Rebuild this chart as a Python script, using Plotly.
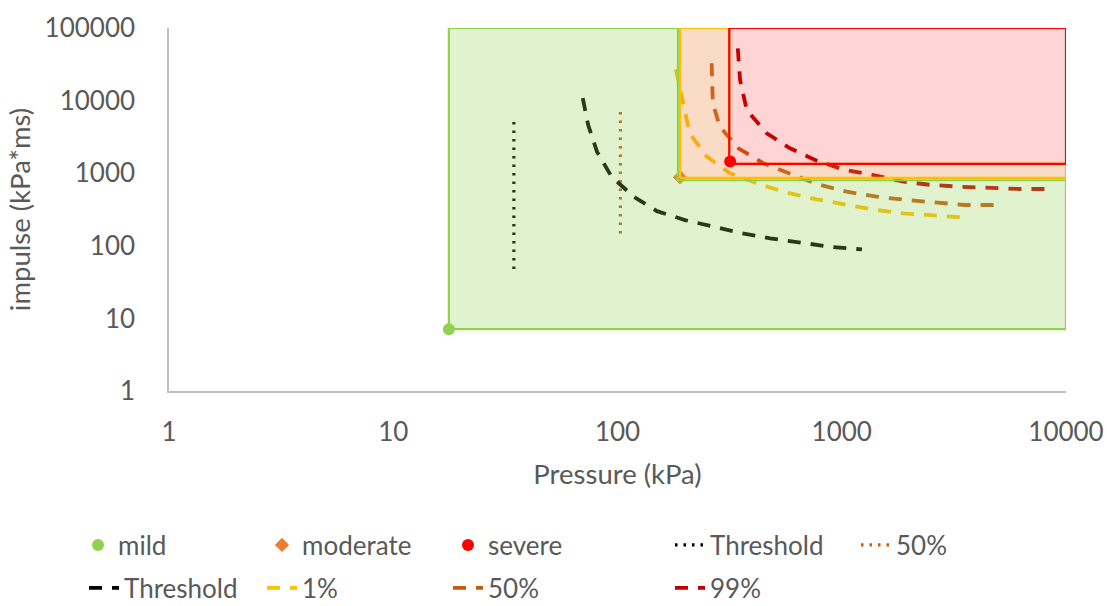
import plotly.graph_objects as go

# Injury points
mild_p, mild_i = [17.7], [7.1]
moderate_p, moderate_i = [190], [880]
severe_p, severe_i = [318], [1450]

# Vertical dotted limits
thr_dot_p, thr_dot_i = [34.5, 34.5], [48, 5800]
p50_dot_p, p50_dot_i = [103, 103], [148, 8100]

# Pressure-impulse curves
thr_p = [70, 74, 81, 94, 118, 150, 200, 272, 358, 479, 652, 887, 1230]
thr_i = [10800, 4600, 1980, 900, 475, 300, 226, 180, 149, 127, 110, 97, 89]
p1_p = [182, 193, 210, 250, 318, 418, 568, 773, 1016, 1360, 1881, 2559, 3430]
p1_i = [27000, 11300, 3540, 1690, 996, 726, 539, 437, 373, 318, 280, 263, 247]
p50_p = [263, 264, 266, 286, 346, 447, 588, 773, 1052, 1432, 1949, 2606, 3546, 4743, 5080]
p50_i = [32700, 19200, 9180, 4370, 2200, 1370, 975, 710, 556, 475, 427, 392, 365, 365, 373]
p99_p = [344, 352, 377, 463, 588, 773, 1034, 1383, 1881, 2518, 3366, 4582, 6235, 8055]
p99_i = [52500, 19200, 7420, 3540, 2200, 1490, 1107, 944, 764, 688, 652, 620, 606, 606]

# Injury zones (outlines)
zone_mild_p = [17.7, 10000, 10000, 186, 186, 17.7, 17.7]
zone_mild_i = [7.1, 7.1, 800, 800, 100000, 100000, 7.1]
zone_mod_p = [190, 10000, 10000, 315, 315, 190, 190]
zone_mod_i = [860, 860, 1340, 1340, 100000, 100000, 860]
zone_sev_p = [315, 10000, 10000, 315, 315]
zone_sev_i = [1340, 1340, 100000, 100000, 1340]

FONT = "Lato"
TXT = "#595959"
DASH = "13px,10px"
DOT = "2.5px,6px"

fig = go.Figure()

def add(trace, legend=None):
    if legend is None:
        trace.showlegend = False
    else:
        trace.legend = legend
    fig.add_trace(trace)

# curves and dotted limits (drawn beneath the translucent zones)
add(go.Scatter(x=thr_dot_p, y=thr_dot_i, mode="lines", name="Threshold",
               line=dict(color="#000000", width=3.2, dash=DOT)), "legend4")
add(go.Scatter(x=p50_dot_p, y=p50_dot_i, mode="lines", name="50%",
               line=dict(color="#C55A11", width=3.2, dash=DOT)), "legend5")
add(go.Scatter(x=thr_p, y=thr_i, mode="lines", name="Threshold",
               line=dict(color="#000000", width=3.8, dash=DASH)), "legend6")
add(go.Scatter(x=p1_p, y=p1_i, mode="lines", name="1%",
               line=dict(color="#FFC000", width=3.8, dash=DASH)), "legend7")
add(go.Scatter(x=p50_p, y=p50_i, mode="lines", name="50%",
               line=dict(color="#C55A11", width=3.8, dash=DASH)), "legend8")
add(go.Scatter(x=p99_p, y=p99_i, mode="lines", name="99%",
               line=dict(color="#C00000", width=3.8, dash=DASH)), "legend9")
add(go.Scatter(x=moderate_p, y=moderate_i, mode="markers", name="moderate",
               marker=dict(symbol="diamond", color="#ED7D31", size=11)), "legend2")

# translucent zones
add(go.Scatter(x=zone_mild_p, y=zone_mild_i, mode="lines", fill="toself",
               fillcolor="rgba(146,208,80,0.28)", line=dict(color="#92D050", width=2.2),
               hoverinfo="skip"))
add(go.Scatter(x=zone_mod_p, y=zone_mod_i, mode="lines", fill="toself",
               fillcolor="rgba(237,125,49,0.28)", line=dict(color="#FFC000", width=2.2),
               hoverinfo="skip"))
add(go.Scatter(x=zone_sev_p, y=zone_sev_i, mode="lines", fill="toself",
               fillcolor="rgba(255,0,0,0.17)", line=dict(color="#FF0000", width=2.2),
               hoverinfo="skip"))

add(go.Scatter(x=mild_p, y=mild_i, mode="markers", name="mild",
               marker=dict(color="#92D050", size=12)), "legend")
add(go.Scatter(x=severe_p, y=severe_i, mode="markers", name="severe",
               marker=dict(color="#FF0000", size=12)), "legend3")

# plot area spans x 169..1066, y 28..391 px
def lx(px):
    return (px - 169) / 897

def ly(py):
    return (391 - py) / 363

leg_font = dict(family=FONT, size=26, color=TXT)
def leg(text_x, row_y):
    return dict(x=lx(text_x - 40), y=ly(row_y), xanchor="left", yanchor="middle",
                bgcolor="rgba(0,0,0,0)", font=leg_font, borderwidth=0,
                tracegroupgap=0)

R1, R2 = 545, 588
fig.update_layout(
    width=1107, height=606,
    margin=dict(l=169, r=41, t=28, b=215, autoexpand=False),
    paper_bgcolor="white", plot_bgcolor="white",
    font=dict(family=FONT, size=26, color=TXT),
    legend=leg(118, R1), legend2=leg(302, R1), legend3=leg(488, R1),
    legend4=leg(710, R1), legend5=leg(896, R1),
    legend6=leg(124, R2), legend7=leg(302, R2), legend8=leg(488, R2),
    legend9=leg(710, R2),
    xaxis=dict(type="log", range=[0, 4], showgrid=False, zeroline=False,
               showline=True, linecolor="#BFBFBF", linewidth=1.5, ticks="",
               tickvals=[1, 10, 100, 1000, 10000],
               ticktext=["1", "10", "100", "1000", "10000"],
               ticklabelstandoff=17,
               tickfont=dict(family=FONT, size=26, color=TXT),
               title=dict(text="Pressure (kPa)", standoff=19,
                          font=dict(family=FONT, size=27.5, color=TXT))),
    yaxis=dict(type="log", range=[0, 5], showgrid=False, zeroline=False,
               showline=True, linecolor="#BFBFBF", linewidth=1.5, ticks="",
               tickvals=[1, 10, 100, 1000, 10000, 100000],
               ticktext=["1", "10", "100", "1000", "10000", "100000"],
               ticklabelstandoff=27,
               tickfont=dict(family=FONT, size=26, color=TXT),
               title=dict(text="impulse (kPa*ms)", standoff=6,
                          font=dict(family=FONT, size=27.5, color=TXT))),
)

fig.write_html("out.html")
